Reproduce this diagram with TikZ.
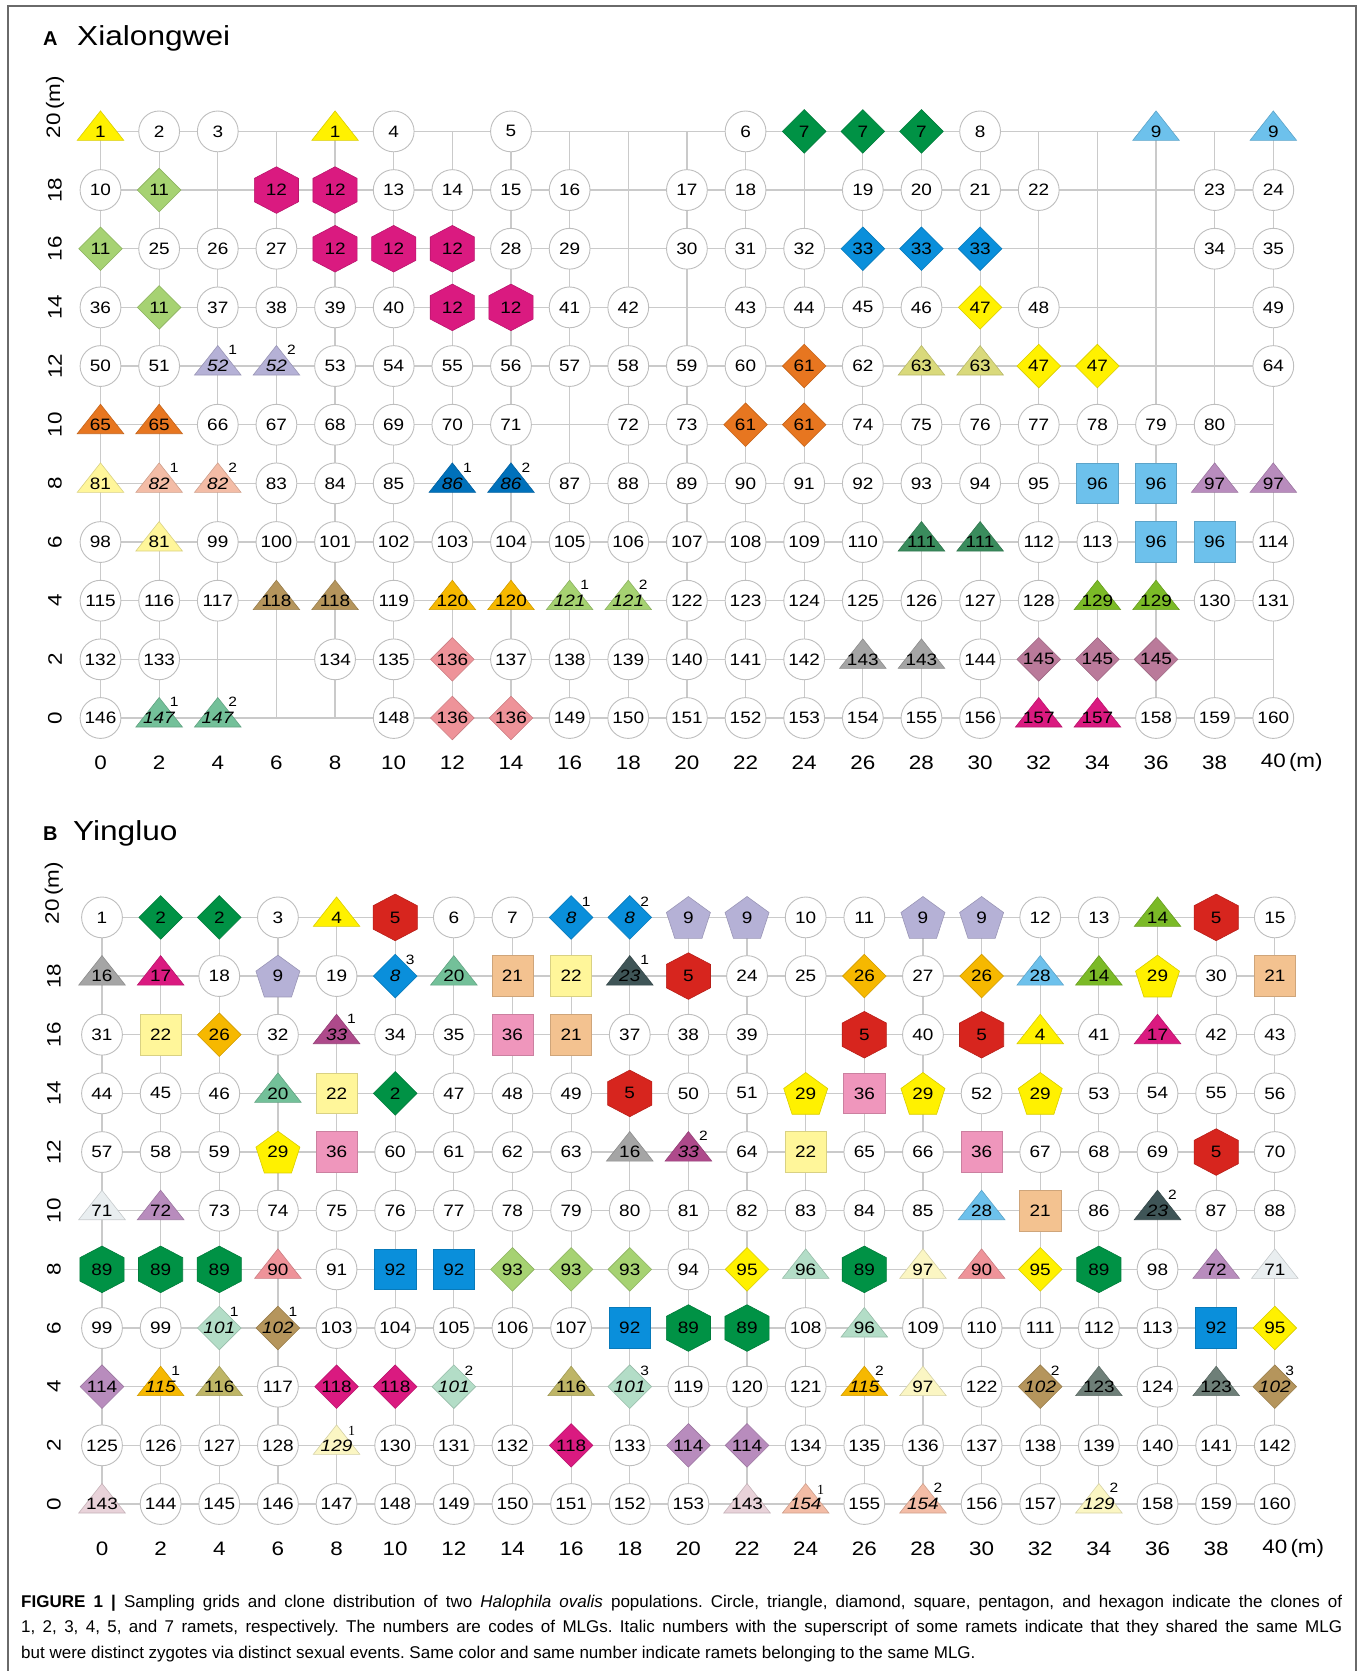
\documentclass[tikz,border=0pt]{standalone}
\usepackage{fontspec}
\setmainfont{Liberation Sans}
\newfontfamily\figfont[FakeStretch=1.15]{Liberation Sans}
\newfontfamily\serfont{Liberation Serif}
\usetikzlibrary{backgrounds}
\definecolor{cYel}{HTML}{FFF100}
\definecolor{cDGreen}{HTML}{009245}
\definecolor{cSky}{HTML}{6DC1EC}
\definecolor{cLGreen}{HTML}{A6D272}
\definecolor{cMag}{HTML}{DA1A80}
\definecolor{cBlue}{HTML}{0A8FDB}
\definecolor{cLav}{HTML}{B5B1D6}
\definecolor{cOrange}{HTML}{E77620}
\definecolor{cKhaki}{HTML}{D9D97B}
\definecolor{cLYel}{HTML}{FFF69A}
\definecolor{cSalmon}{HTML}{F3BCA6}
\definecolor{cDBlue}{HTML}{0071BB}
\definecolor{cMauve}{HTML}{B88CBD}
\definecolor{cSea}{HTML}{3A8C5D}
\definecolor{cTan}{HTML}{B5955C}
\definecolor{cAmber}{HTML}{F6B800}
\definecolor{cYGreen}{HTML}{7BBA27}
\definecolor{cPink}{HTML}{EE9399}
\definecolor{cGray}{HTML}{A5A5A5}
\definecolor{cRose}{HTML}{BA7A9A}
\definecolor{cMint}{HTML}{73C099}
\definecolor{cRed}{HTML}{D7251E}
\definecolor{cPeach}{HTML}{F3C290}
\definecolor{cSlate}{HTML}{3F5557}
\definecolor{cPlum}{HTML}{AE4A8B}
\definecolor{cPinkSq}{HTML}{EF96BC}
\definecolor{cIce}{HTML}{E9EEF0}
\definecolor{cPaleMint}{HTML}{B3DDC7}
\definecolor{cPaleYel}{HTML}{FBF6C3}
\definecolor{cOlive}{HTML}{BEB566}
\definecolor{cGrayGreen}{HTML}{6E7F78}
\definecolor{cPalePink}{HTML}{E8D2D9}
\definecolor{cRing}{HTML}{BEBEBE}
\definecolor{cGrid}{HTML}{CACACA}
\definecolor{cFrame}{HTML}{6A6A6A}
\begin{document}
\begin{tikzpicture}[x=1pt, y=-1pt,
    num/.style={font=\figfont\fontsize{16.5}{18}\selectfont, inner sep=0pt},
    supnum/.style={font=\figfont\fontsize{13.5}{14}\selectfont, inner sep=0pt},
    supserif/.style={font=\serfont\fontsize{14}{14}\selectfont, inner sep=0pt},
    axnum/.style={font=\figfont\fontsize{19.5}{20}\selectfont, inner sep=0pt},
    paneltag/.style={font=\bfseries\fontsize{20}{22}\selectfont, inner sep=0pt, anchor=base west},
    paneltitle/.style={font=\figfont\fontsize{27.5}{30}\selectfont, inner sep=0pt, anchor=base west},
    captext/.style={font=\fontsize{17}{25.6}\selectfont\frenchspacing, text width=1321pt, align=justify, inner sep=0pt, anchor=base west},
    gridline/.style={draw=cGrid, line width=1.2pt},
    shapefill/.style={fill=#1, draw=#1!85!black, line width=0.6pt},
    pics/circ/.style={code={\path[fill=white, draw=cRing, line width=0.9pt] (0pt,0pt) circle[radius=20.4pt];}},
    pics/tri/.style={code={\path[shapefill=#1] (-23.3pt,-9pt) -- (0pt,20.5pt) -- (23.3pt,-9pt) -- cycle;}},
    pics/dia/.style={code={\path[shapefill=#1] (0pt,21.8pt) -- (21.8pt,0pt) -- (0pt,-21.8pt) -- (-21.8pt,0pt) -- cycle;}},
    pics/sq/.style={code={\path[shapefill=#1] (-20.6pt,-20.4pt) rectangle (20.6pt,20.4pt);}},
    pics/pent/.style={code={\path[shapefill=#1] (0pt,20.9pt) -- (22pt,4.9pt) -- (13.6pt,-20.9pt) -- (-13.6pt,-20.9pt) -- (-22pt,4.9pt) -- cycle;}},
    pics/hexa/.style={code={\path[shapefill=#1] (0pt,23.3pt) -- (22.1pt,11.7pt) -- (22.1pt,-11.7pt) -- (0pt,-23.3pt) -- (-22.1pt,-11.7pt) -- (-22.1pt,11.7pt) -- cycle;}},
    pics/none/.style={code={}},
]
\useasboundingbox (0,0) rectangle (1363,1671);
\draw[cFrame, line width=1.4pt] (8,1671) -- (8,6) -- (1356,6) -- (1356,1671);

\node[paneltag] (tagA) at (43,45) {A};
\node[paneltitle] (titA) at (77,45) {Xialongwei};
\node[paneltag] (tagB) at (43,840) {B};
\node[paneltitle] (titB) at (73,840) {Yingluo};

\begin{scope}[shift={(100.5,718)}, x=58.64pt, y=58.66pt]
\foreach \r/\cells in {
  10/{1/tri/cYel, 2/circ/-, 3/circ/-, {}/none/-, 1/tri/cYel, 4/circ/-, {}/none/-, 5/circ/-, {}/none/-, {}/none/-, {}/none/-, 6/circ/-, 7/dia/cDGreen, 7/dia/cDGreen, 7/dia/cDGreen, 8/circ/-, {}/none/-, {}/none/-, 9/tri/cSky, {}/none/-, 9/tri/cSky},
  9/{10/circ/-, 11/dia/cLGreen, {}/none/-, 12/hexa/cMag, 12/hexa/cMag, 13/circ/-, 14/circ/-, 15/circ/-, 16/circ/-, {}/none/-, 17/circ/-, 18/circ/-, {}/none/-, 19/circ/-, 20/circ/-, 21/circ/-, 22/circ/-, {}/none/-, {}/none/-, 23/circ/-, 24/circ/-},
  8/{11/dia/cLGreen, 25/circ/-, 26/circ/-, 27/circ/-, 12/hexa/cMag, 12/hexa/cMag, 12/hexa/cMag, 28/circ/-, 29/circ/-, {}/none/-, 30/circ/-, 31/circ/-, 32/circ/-, 33/dia/cBlue, 33/dia/cBlue, 33/dia/cBlue, {}/none/-, {}/none/-, {}/none/-, 34/circ/-, 35/circ/-},
  7/{36/circ/-, 11/dia/cLGreen, 37/circ/-, 38/circ/-, 39/circ/-, 40/circ/-, 12/hexa/cMag, 12/hexa/cMag, 41/circ/-, 42/circ/-, {}/none/-, 43/circ/-, 44/circ/-, 45/circ/-, 46/circ/-, 47/dia/cYel, 48/circ/-, {}/none/-, {}/none/-, {}/none/-, 49/circ/-},
  6/{50/circ/-, 51/circ/-, \textit{52}/tri/cLav, \textit{52}/tri/cLav, 53/circ/-, 54/circ/-, 55/circ/-, 56/circ/-, 57/circ/-, 58/circ/-, 59/circ/-, 60/circ/-, 61/dia/cOrange, 62/circ/-, 63/tri/cKhaki, 63/tri/cKhaki, 47/dia/cYel, 47/dia/cYel, {}/none/-, {}/none/-, 64/circ/-},
  5/{65/tri/cOrange, 65/tri/cOrange, 66/circ/-, 67/circ/-, 68/circ/-, 69/circ/-, 70/circ/-, 71/circ/-, {}/none/-, 72/circ/-, 73/circ/-, 61/dia/cOrange, 61/dia/cOrange, 74/circ/-, 75/circ/-, 76/circ/-, 77/circ/-, 78/circ/-, 79/circ/-, 80/circ/-, {}/none/-},
  4/{81/tri/cLYel, \textit{82}/tri/cSalmon, \textit{82}/tri/cSalmon, 83/circ/-, 84/circ/-, 85/circ/-, \textit{86}/tri/cDBlue, \textit{86}/tri/cDBlue, 87/circ/-, 88/circ/-, 89/circ/-, 90/circ/-, 91/circ/-, 92/circ/-, 93/circ/-, 94/circ/-, 95/circ/-, 96/sq/cSky, 96/sq/cSky, 97/tri/cMauve, 97/tri/cMauve},
  3/{98/circ/-, 81/tri/cLYel, 99/circ/-, 100/circ/-, 101/circ/-, 102/circ/-, 103/circ/-, 104/circ/-, 105/circ/-, 106/circ/-, 107/circ/-, 108/circ/-, 109/circ/-, 110/circ/-, 111/tri/cSea, 111/tri/cSea, 112/circ/-, 113/circ/-, 96/sq/cSky, 96/sq/cSky, 114/circ/-},
  2/{115/circ/-, 116/circ/-, 117/circ/-, 118/tri/cTan, 118/tri/cTan, 119/circ/-, 120/tri/cAmber, 120/tri/cAmber, \textit{121}/tri/cLGreen, \textit{121}/tri/cLGreen, 122/circ/-, 123/circ/-, 124/circ/-, 125/circ/-, 126/circ/-, 127/circ/-, 128/circ/-, 129/tri/cYGreen, 129/tri/cYGreen, 130/circ/-, 131/circ/-},
  1/{132/circ/-, 133/circ/-, {}/none/-, {}/none/-, 134/circ/-, 135/circ/-, 136/dia/cPink, 137/circ/-, 138/circ/-, 139/circ/-, 140/circ/-, 141/circ/-, 142/circ/-, 143/tri/cGray, 143/tri/cGray, 144/circ/-, 145/dia/cRose, 145/dia/cRose, 145/dia/cRose, {}/none/-, {}/none/-},
  0/{146/circ/-, \textit{147}/tri/cMint, \textit{147}/tri/cMint, {}/none/-, {}/none/-, 148/circ/-, 136/dia/cPink, 136/dia/cPink, 149/circ/-, 150/circ/-, 151/circ/-, 152/circ/-, 153/circ/-, 154/circ/-, 155/circ/-, 156/circ/-, 157/tri/cMag, 157/tri/cMag, 158/circ/-, 159/circ/-, 160/circ/-}}
  \foreach \lab/\shp/\col [count=\c from 0] in \cells
    {\pic at (\c,\r) {\shp=\col}; \node[num] (A-\c-\r) at (\c,\r) {\lab};}

\foreach \n/\s in {2-6/1, 3-6/2, 1-4/1, 2-4/2, 6-4/1, 7-4/2, 8-2/1, 9-2/2, 1-0/1, 2-0/2}
  \node[supnum] (A-\n-s) at ([shift={(15pt,16pt)}]A-\n) {\s};

\begin{scope}[on background layer]
\foreach \r in {0,...,10} \draw[gridline] (A-0-\r.center) -- (A-20-\r.center);
\foreach \c in {0,...,20} \draw[gridline] (A-\c-0.center) -- (A-\c-10.center);
\end{scope}

\foreach \c [evaluate=\c as \m using int(2*\c)] in {0,...,19}
  \node[axnum] (A-x\c) at (\c,-0.76) {\m};
\node[axnum] (A-x20) at (20,-0.76) {40\rlap{\,(m)}};
\foreach \r [evaluate=\r as \m using int(2*\r)] in {0,...,9}
  \node[axnum, rotate=90] (A-y\r) at (-0.776,\r) {\m};
\node[axnum, rotate=90] (A-y10) at (-0.776,10.1) {20\rlap{\,(m)}};
\end{scope}

\begin{scope}[shift={(102,1504)}, x=58.64pt, y=58.66pt]
\foreach \r/\cells in {
  10/{1/circ/-, 2/dia/cDGreen, 2/dia/cDGreen, 3/circ/-, 4/tri/cYel, 5/hexa/cRed, 6/circ/-, 7/circ/-, \textit{8}/dia/cBlue, \textit{8}/dia/cBlue, 9/pent/cLav, 9/pent/cLav, 10/circ/-, 11/circ/-, 9/pent/cLav, 9/pent/cLav, 12/circ/-, 13/circ/-, 14/tri/cYGreen, 5/hexa/cRed, 15/circ/-},
  9/{16/tri/cGray, 17/tri/cMag, 18/circ/-, 9/pent/cLav, 19/circ/-, \textit{8}/dia/cBlue, 20/tri/cMint, 21/sq/cPeach, 22/sq/cLYel, \textit{23}/tri/cSlate, 5/hexa/cRed, 24/circ/-, 25/circ/-, 26/dia/cAmber, 27/circ/-, 26/dia/cAmber, 28/tri/cSky, 14/tri/cYGreen, 29/pent/cYel, 30/circ/-, 21/sq/cPeach},
  8/{31/circ/-, 22/sq/cLYel, 26/dia/cAmber, 32/circ/-, \textit{33}/tri/cPlum, 34/circ/-, 35/circ/-, 36/sq/cPinkSq, 21/sq/cPeach, 37/circ/-, 38/circ/-, 39/circ/-, {}/none/-, 5/hexa/cRed, 40/circ/-, 5/hexa/cRed, 4/tri/cYel, 41/circ/-, 17/tri/cMag, 42/circ/-, 43/circ/-},
  7/{44/circ/-, 45/circ/-, 46/circ/-, 20/tri/cMint, 22/sq/cLYel, 2/dia/cDGreen, 47/circ/-, 48/circ/-, 49/circ/-, 5/hexa/cRed, 50/circ/-, 51/circ/-, 29/pent/cYel, 36/sq/cPinkSq, 29/pent/cYel, 52/circ/-, 29/pent/cYel, 53/circ/-, 54/circ/-, 55/circ/-, 56/circ/-},
  6/{57/circ/-, 58/circ/-, 59/circ/-, 29/pent/cYel, 36/sq/cPinkSq, 60/circ/-, 61/circ/-, 62/circ/-, 63/circ/-, 16/tri/cGray, \textit{33}/tri/cPlum, 64/circ/-, 22/sq/cLYel, 65/circ/-, 66/circ/-, 36/sq/cPinkSq, 67/circ/-, 68/circ/-, 69/circ/-, 5/hexa/cRed, 70/circ/-},
  5/{71/tri/cIce, 72/tri/cMauve, 73/circ/-, 74/circ/-, 75/circ/-, 76/circ/-, 77/circ/-, 78/circ/-, 79/circ/-, 80/circ/-, 81/circ/-, 82/circ/-, 83/circ/-, 84/circ/-, 85/circ/-, 28/tri/cSky, 21/sq/cPeach, 86/circ/-, \textit{23}/tri/cSlate, 87/circ/-, 88/circ/-},
  4/{89/hexa/cDGreen, 89/hexa/cDGreen, 89/hexa/cDGreen, 90/tri/cPink, 91/circ/-, 92/sq/cBlue, 92/sq/cBlue, 93/dia/cLGreen, 93/dia/cLGreen, 93/dia/cLGreen, 94/circ/-, 95/dia/cYel, 96/tri/cPaleMint, 89/hexa/cDGreen, 97/tri/cPaleYel, 90/tri/cPink, 95/dia/cYel, 89/hexa/cDGreen, 98/circ/-, 72/tri/cMauve, 71/tri/cIce},
  3/{99/circ/-, 99/circ/-, \textit{101}/dia/cPaleMint, \textit{102}/dia/cTan, 103/circ/-, 104/circ/-, 105/circ/-, 106/circ/-, 107/circ/-, 92/sq/cBlue, 89/hexa/cDGreen, 89/hexa/cDGreen, 108/circ/-, 96/tri/cPaleMint, 109/circ/-, 110/circ/-, 111/circ/-, 112/circ/-, 113/circ/-, 92/sq/cBlue, 95/dia/cYel},
  2/{114/dia/cMauve, \textit{115}/tri/cAmber, 116/tri/cOlive, 117/circ/-, 118/dia/cMag, 118/dia/cMag, \textit{101}/dia/cPaleMint, {}/none/-, 116/tri/cOlive, \textit{101}/dia/cPaleMint, 119/circ/-, 120/circ/-, 121/circ/-, \textit{115}/tri/cAmber, 97/tri/cPaleYel, 122/circ/-, \textit{102}/dia/cTan, 123/tri/cGrayGreen, 124/circ/-, 123/tri/cGrayGreen, \textit{102}/dia/cTan},
  1/{125/circ/-, 126/circ/-, 127/circ/-, 128/circ/-, \textit{129}/tri/cPaleYel, 130/circ/-, 131/circ/-, 132/circ/-, 118/dia/cMag, 133/circ/-, 114/dia/cMauve, 114/dia/cMauve, 134/circ/-, 135/circ/-, 136/circ/-, 137/circ/-, 138/circ/-, 139/circ/-, 140/circ/-, 141/circ/-, 142/circ/-},
  0/{143/tri/cPalePink, 144/circ/-, 145/circ/-, 146/circ/-, 147/circ/-, 148/circ/-, 149/circ/-, 150/circ/-, 151/circ/-, 152/circ/-, 153/circ/-, 143/tri/cPalePink, \textit{154}/tri/cSalmon, 155/circ/-, \textit{154}/tri/cSalmon, 156/circ/-, 157/circ/-, \textit{129}/tri/cPaleYel, 158/circ/-, 159/circ/-, 160/circ/-}}
  \foreach \lab/\shp/\col [count=\c from 0] in \cells
    {\pic at (\c,\r) {\shp=\col}; \node[num] (B-\c-\r) at (\c,\r) {\lab};}

\foreach \n/\s in {8-10/1, 9-10/2, 5-9/3, 9-9/1, 4-8/1, 10-6/2, 18-5/2, 2-3/1, 3-3/1, 1-2/1, 6-2/2, 9-2/3, 13-2/2, 16-2/2, 20-2/3, 14-0/2, 17-0/2}
  \node[supnum] (B-\n-s) at ([shift={(15pt,16pt)}]B-\n) {\s};
\foreach \n/\s in {4-1/1, 12-0/1}
  \node[supserif] (B-\n-s) at ([shift={(15pt,14pt)}]B-\n) {\s};

\begin{scope}[on background layer]
\foreach \r in {0,...,10} \draw[gridline] (B-0-\r.center) -- (B-20-\r.center);
\foreach \c in {0,...,20} \draw[gridline] (B-\c-0.center) -- (B-\c-10.center);
\end{scope}

\foreach \c [evaluate=\c as \m using int(2*\c)] in {0,...,19}
  \node[axnum] (B-x\c) at (\c,-0.76) {\m};
\node[axnum] (B-x20) at (20,-0.76) {40\rlap{\,(m)}};
\foreach \r [evaluate=\r as \m using int(2*\r)] in {0,...,9}
  \node[axnum, rotate=90] (B-y\r) at (-0.82,\r) {\m};
\node[axnum, rotate=90] (B-y10) at (-0.82,10.1) {20\rlap{\,(m)}};
\end{scope}

\node[captext] (cap) at (21,1607) {\textbf{FIGURE 1 |} Sampling grids and clone distribution of two \textit{Halophila ovalis} populations. Circle, triangle, diamond, square, pentagon, and hexagon indicate the clones of\linebreak 1, 2, 3, 4, 5, and 7 ramets, respectively. The numbers are codes of MLGs. Italic numbers with the superscript of some ramets indicate that they shared the same MLG\linebreak but were distinct zygotes via distinct sexual events. Same color and same number indicate ramets belonging to the same MLG.};
\end{tikzpicture}
\end{document}
